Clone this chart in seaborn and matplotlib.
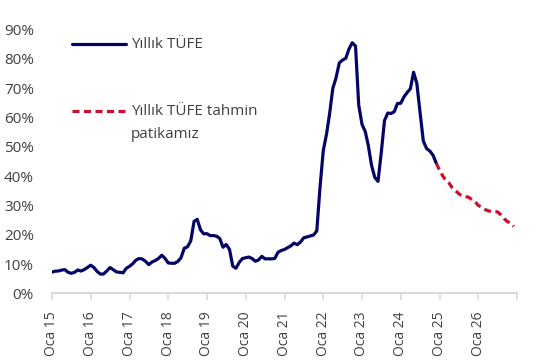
import matplotlib.pyplot as plt
import pandas as pd
import seaborn as sns

# Yıllık TÜFE (%), Oca 2015 - Ara 2024, monthly
tufe = [
    7.24, 7.55, 7.61, 7.91, 8.09, 7.20, 6.81, 7.14, 7.95, 7.58, 8.10, 8.81,
    9.58, 8.78, 7.46, 6.57, 6.58, 7.64, 8.79, 8.05, 7.28, 7.16, 7.00, 8.53,
    9.22, 10.13, 11.29, 11.87, 11.72, 10.90, 9.79, 10.68, 11.20, 11.90, 12.98, 11.92,
    10.35, 10.26, 10.23, 10.85, 12.15, 15.39, 15.85, 17.90, 24.52, 25.24, 21.62, 20.30,
    20.35, 19.67, 19.71, 19.50, 18.71, 15.72, 16.65, 15.01, 9.26, 8.55, 10.56, 11.84,
    12.15, 12.37, 11.86, 10.94, 11.39, 12.62, 11.76, 11.77, 11.75, 11.89, 14.03, 14.60,
    14.97, 15.61, 16.19, 17.14, 16.59, 17.53, 18.95, 19.25, 19.58, 19.89, 21.31, 36.08,
    48.69, 54.44, 61.14, 69.97, 73.50, 78.62, 79.60, 80.21, 83.45, 85.51, 84.39, 64.27,
    57.68, 55.18, 50.51, 43.68, 39.59, 38.21, 47.83, 58.94, 61.53, 61.36, 61.98, 64.77,
    64.86, 67.07, 68.50, 69.80, 75.45, 71.60, 61.78, 51.97, 49.38, 48.58, 47.09, 44.38,
]

# Yıllık TÜFE tahmin patikamız (%), Ara 2024 - Ara 2026
tahmin = [
    44.4, 42.0, 40.0, 38.5, 37.6, 36.0, 35.0, 34.0, 33.2, 33.0, 32.8, 32.0, 31.3,
    30.0, 29.4, 28.7, 28.2, 27.9, 27.9, 27.8, 26.8, 25.5, 24.5, 24.0, 22.8,
]

years = list(range(2015, 2027))
tick_labels = [f"Oca {y % 100}" for y in years]
y_ticks = list(range(0, 100, 10))

hist_dates = pd.date_range("2015-01-01", periods=len(tufe), freq="MS")
fc_dates = pd.date_range("2024-12-01", periods=len(tahmin), freq="MS")

NAVY = "#050566"
RED = "#c8102e"
TEXT = "#404040"

sns.set_theme(style="white")
plt.rcParams["font.family"] = ["Open Sans", "DejaVu Sans"]

fig = plt.figure(figsize=(5.36, 3.6), dpi=100)
ax = fig.add_axes([52 / 536, 1 - 293.3 / 360, 465 / 536, 263.7 / 360])

sns.lineplot(x=hist_dates, y=tufe, color=NAVY, linewidth=2.3, ax=ax)
sns.lineplot(x=fc_dates, y=tahmin, color=RED, linewidth=2.3,
             linestyle=(0, (2.2, 1.4)), ax=ax)

ax.set_xlim(pd.Timestamp("2015-01-01"), pd.Timestamp("2027-01-01"))
ax.set_ylim(0, 90)

xt = pd.date_range("2015-01-01", "2027-01-01", freq="YS")
ax.set_xticks(xt)
ax.set_xticklabels(tick_labels + [""], rotation=90, fontsize=10, color=TEXT)
ax.set_yticks(y_ticks)
ax.set_yticklabels([f"{v}%" for v in y_ticks], fontsize=11, color=TEXT)

ax.tick_params(axis="x", which="major", direction="out", length=5, width=1.2,
               color="#d9d9d9", pad=8, bottom=True)
ax.tick_params(axis="y", length=0, pad=13)
for side in ["left", "top", "right"]:
    ax.spines[side].set_visible(False)
ax.spines["bottom"].set_color("#d9d9d9")
ax.spines["bottom"].set_linewidth(1.5)
ax.set_xlabel("")
ax.set_ylabel("")

# legend drawn by hand so the handle sits on the first text line
ax.plot([0.043, 0.159], [0.944, 0.944], color=NAVY, linewidth=2.3,
        transform=ax.transAxes, clip_on=False)
ax.text(0.170, 0.944, "Yıllık TÜFE", transform=ax.transAxes, fontsize=11,
        color=TEXT, va="center", ha="left")
ax.plot([0.043, 0.159], [0.691, 0.691], color=RED, linewidth=2.3,
        linestyle=(0, (2.2, 1.4)), transform=ax.transAxes, clip_on=False)
ax.text(0.170, 0.691, "Yıllık TÜFE tahmin", transform=ax.transAxes,
        fontsize=11, color=TEXT, va="center", ha="left")
ax.text(0.170, 0.604, "patikamız", transform=ax.transAxes,
        fontsize=11, color=TEXT, va="center", ha="left")

fig.savefig("out.png", dpi=100)
